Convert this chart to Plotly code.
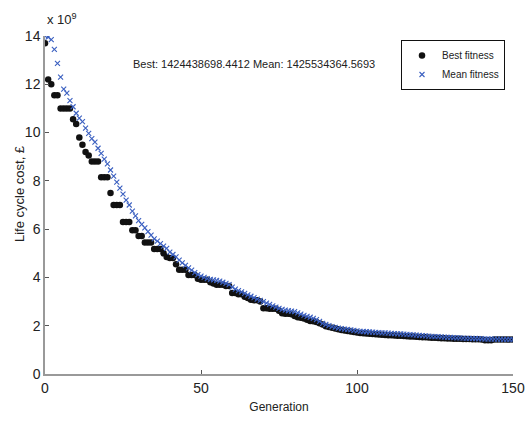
import plotly.graph_objects as go

generation = list(range(151))

best_fitness = [
    13.7, 12.2, 12.0, 11.55, 11.55, 11.0, 11.0, 11.0, 11.0, 10.55,
    10.35, 9.8, 9.5, 9.2, 9.05, 8.8, 8.8, 8.8, 8.15, 8.15,
    8.15, 7.5, 7.0, 7.0, 7.0, 6.3, 6.3, 6.3, 5.95, 5.95,
    5.72, 5.72, 5.45, 5.45, 5.45, 5.18, 5.18, 5.18, 5.0, 4.85,
    4.8, 4.8, 4.55, 4.32, 4.32, 4.32, 4.1, 4.1, 4.1, 3.95,
    3.9, 3.9, 3.9, 3.8, 3.75, 3.7, 3.7, 3.7, 3.65, 3.65,
    3.35, 3.35, 3.3, 3.3, 3.2, 3.15, 3.08, 3.05, 3.05, 3.0,
    2.72, 2.72, 2.7, 2.7, 2.7, 2.62, 2.52, 2.5, 2.5, 2.48,
    2.4, 2.35, 2.33, 2.3, 2.25, 2.2, 2.18, 2.15, 2.1, 2.05,
    1.98, 1.95, 1.92, 1.88, 1.85, 1.82, 1.8, 1.78, 1.76, 1.74,
    1.72, 1.7, 1.69, 1.68, 1.67, 1.66, 1.65, 1.64, 1.63, 1.62,
    1.61, 1.6, 1.59, 1.58, 1.58, 1.57, 1.56, 1.55, 1.55, 1.54,
    1.53, 1.52, 1.52, 1.51, 1.5, 1.5, 1.49, 1.48, 1.48, 1.47,
    1.47, 1.46, 1.46, 1.46, 1.45, 1.45, 1.45, 1.44, 1.44, 1.44,
    1.43, 1.4, 1.4, 1.4, 1.43, 1.425, 1.425, 1.425, 1.424, 1.424,
    1.424,
]

mean_fitness = [
    14.0, 13.95, 13.85, 13.45, 12.87, 12.3, 11.8, 11.63, 11.32, 11.07,
    10.8, 10.6, 10.45, 10.18, 9.97, 9.75, 9.6, 9.35, 9.14, 8.9,
    8.7, 8.45, 8.2, 7.95, 7.7, 7.45, 7.2, 7.0, 6.75, 6.55,
    6.35, 6.2, 6.05, 5.9, 5.75, 5.6, 5.5, 5.4, 5.3, 5.2,
    5.05, 4.95, 4.85, 4.72, 4.6, 4.5, 4.4, 4.3, 4.2, 4.12,
    4.05, 4.0, 3.95, 3.92, 3.9, 3.88, 3.85, 3.8, 3.75, 3.7,
    3.6, 3.52, 3.45, 3.4, 3.34, 3.28, 3.22, 3.16, 3.1, 3.05,
    3.0, 2.94, 2.88, 2.82, 2.77, 2.72, 2.68, 2.65, 2.62, 2.6,
    2.58, 2.53, 2.48, 2.43, 2.39, 2.35, 2.3, 2.25, 2.18, 2.1,
    2.05, 2.0, 1.96, 1.93, 1.9, 1.88, 1.86, 1.85, 1.83, 1.81,
    1.79, 1.77, 1.76, 1.75, 1.74, 1.73, 1.72, 1.71, 1.7, 1.7,
    1.69, 1.68, 1.67, 1.66, 1.66, 1.65, 1.64, 1.63, 1.62, 1.61,
    1.6, 1.59, 1.58, 1.57, 1.56, 1.55, 1.55, 1.54, 1.53, 1.52,
    1.52, 1.51, 1.5, 1.5, 1.49, 1.48, 1.48, 1.47, 1.47, 1.46,
    1.46, 1.45, 1.45, 1.45, 1.44, 1.44, 1.44, 1.43, 1.43, 1.43,
    1.4255,
]

x_ticks = [0, 50, 100, 150]
y_ticks = [0, 2, 4, 6, 8, 10, 12, 14]

FONT = "Liberation Sans Narrow, Liberation Sans, Arial, sans-serif"

fig = go.Figure()
fig.add_trace(go.Scatter(
    x=generation, y=best_fitness, mode="markers", name="Best fitness",
    marker=dict(symbol="circle", size=6.5, color="#111111", line=dict(width=0)),
))
fig.add_trace(go.Scatter(
    x=generation, y=mean_fitness, mode="markers", name="Mean fitness",
    marker=dict(symbol="x-thin", size=5, color="#3a5fc0",
                line=dict(width=1.1, color="#3a5fc0")),
))

axis_common = dict(
    showline=True, linecolor="#999999", linewidth=1.5,
    ticks="inside", ticklen=4, tickcolor="#555555",
    showgrid=False, zeroline=False, automargin=False,
    tickfont=dict(family=FONT, size=14, color="#222222"),
)

fig.update_layout(
    width=526, height=423,
    margin=dict(l=45, r=13, t=36, b=49),
    paper_bgcolor="white", plot_bgcolor="white",
    font=dict(family=FONT, size=12, color="#222222"),
    xaxis=dict(range=[0, 150], tickvals=x_ticks,
               title=dict(text="Generation", font=dict(family=FONT, size=12), standoff=8),
               **axis_common),
    yaxis=dict(range=[0, 14], tickvals=y_ticks, **axis_common),
    legend=dict(x=(401 - 45) / 468, y=(374 - 40) / 338, xanchor="left", yanchor="top",
                bgcolor="white", bordercolor="#111111", borderwidth=1,
                font=dict(family=FONT, size=10, color="#222222"),
                tracegroupgap=0, itemwidth=30),
    showlegend=True,
)

fig.add_annotation(
    xref="paper", yref="paper", x=(254 - 45) / 468, y=(374 - 64) / 338,
    text="Best: 1424438698.4412 Mean: 1425534364.5693", showarrow=False,
    font=dict(family=FONT, size=11, color="#222222"), xanchor="center", yanchor="middle",
)
fig.add_annotation(
    xref="paper", yref="paper", x=0, y=(374 - 19) / 338,
    text="x 10<sup>9</sup>", showarrow=False,
    font=dict(family=FONT, size=13, color="#222222"), xanchor="left", yanchor="middle",
)
fig.add_annotation(
    xref="paper", yref="paper", x=(20 - 45) / 468, y=(374 - 194) / 338,
    text="Life cycle cost, £", showarrow=False, textangle=-90,
    font=dict(family=FONT, size=13, color="#222222"), xanchor="center", yanchor="middle",
)

fig.write_html("out.html")
